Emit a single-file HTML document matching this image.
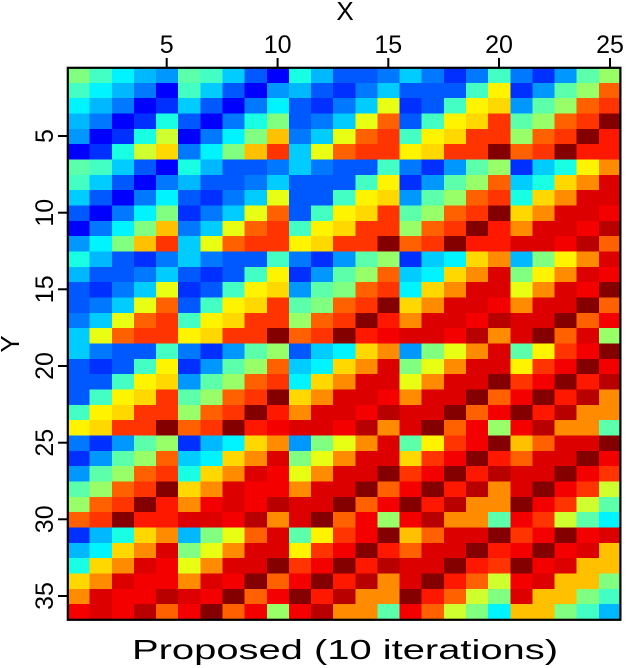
<!DOCTYPE html>
<html>
<head>
<meta charset="utf-8">
<style>
html,body{margin:0;padding:0;background:#fff;width:626px;height:668px;overflow:hidden}
svg{display:block}
text{font-family:"Liberation Sans",sans-serif;fill:#000}
</style>
</head>
<body>
<svg id="s" width="626" height="668" viewBox="0 0 626 668" xmlns="http://www.w3.org/2000/svg">
<rect x="0" y="0" width="626" height="668" fill="#fff"/>
<g id="cells" shape-rendering="crispEdges"></g>
<rect x="67.8" y="67.8" width="552.6" height="552" fill="none" stroke="#000" stroke-width="2.2"/>
<g stroke="#000" stroke-width="2">
<line x1="166.7" y1="58" x2="166.7" y2="67"/>
<line x1="277.6" y1="58" x2="277.6" y2="67"/>
<line x1="388.3" y1="58" x2="388.3" y2="67"/>
<line x1="499" y1="58" x2="499" y2="67"/>
<line x1="610" y1="58" x2="610" y2="67"/>
<line x1="58" y1="136" x2="67" y2="136"/>
<line x1="58" y1="212.7" x2="67" y2="212.7"/>
<line x1="58" y1="289.3" x2="67" y2="289.3"/>
<line x1="58" y1="366" x2="67" y2="366"/>
<line x1="58" y1="442.7" x2="67" y2="442.7"/>
<line x1="58" y1="519.3" x2="67" y2="519.3"/>
<line x1="58" y1="596" x2="67" y2="596"/>
</g>
<g font-size="25" text-anchor="middle">
<text x="166.7" y="53">5</text>
<text x="277.6" y="53">10</text>
<text x="388.3" y="53">15</text>
<text x="499" y="53">20</text>
<text x="610" y="53">25</text>
<text transform="translate(53,136) rotate(-90)">5</text>
<text transform="translate(53,212.7) rotate(-90)">10</text>
<text transform="translate(53,289.3) rotate(-90)">15</text>
<text transform="translate(53,366) rotate(-90)">20</text>
<text transform="translate(53,442.7) rotate(-90)">25</text>
<text transform="translate(53,519.3) rotate(-90)">30</text>
<text transform="translate(53,596) rotate(-90)">35</text>
</g>
<text x="345" y="20" font-size="26" text-anchor="middle">X</text>
<text transform="translate(19,344) rotate(-90)" font-size="26" text-anchor="middle">Y</text>
<text x="132" y="659" font-size="28" textLength="426" lengthAdjust="spacingAndGlyphs">Proposed (10 iterations)</text>
</svg>
<script>
(function(){
var P={A:'#0000ff',B:'#0030ff',C:'#0058ff',D:'#0078ff',E:'#0098ff',F:'#00b8ff',G:'#00ccff',H:'#00f4ff',I:'#18ffe4',J:'#44ffc4',K:'#5cffaa',L:'#80ff80',M:'#98ff68',N:'#d0ff30',O:'#e8ff14',P:'#fff400',Q:'#ffd800',R:'#ffc000',S:'#ff8c00',T:'#ff6000',U:'#ff3400',V:'#ff1800',W:'#f40000',X:'#dc0000',Y:'#b80000',Z:'#840000'};
var D=[
"LJHFEKJG"+"CAIFCCDG"+"DBDJDBEKM",
"JHFDAJGC"+"AEFCBDGC"+"CCJPBEKMT",
"HFDABGCA"+"DHCBDGOB"+"CJPQEKMTU",
"FDABICAD"+"ILCDGOTC"+"JPQUKMTUZ",
"EABINADH"+"LRDGOTUJ"+"PQUUMTUZV",
"ABINQDHL"+"RUGOTUUP"+"QUUZTUZVV",
"KJGCAIFC"+"CDGDCCJD"+"BEKMBGIPS",
"JGCADFCC"+"DGCCCJPB"+"EKMTGIQSX",
"GCADHCBD"+"GOCCJPQE"+"KMTUIQSXX",
"CADHLBDG"+"OTCJPQUK"+"MTUZQSXXW",
"ADHLRDGO"+"TUJPQUUM"+"TUZVSXXWY",
"EHLRUGOT"+"UUPQUUZT"+"UZVVXXWYT",
"IFCBDGDC"+"CJDBEKMB"+"GHQSFLPSX",
"FCCDGCBC"+"JPBEKMTG"+"HQSXLPSXW",
"CBDGOBCJ"+"PQEKLTUH"+"QSXXOSXWZ",
"CDGOTCJP"+"QUKLTUZQ"+"SXXWSXXZT",
"DGOTUJPQ"+"UUMTUZVS"+"XXWYXXZTW",
"GOTUUPQU"+"UZTUZVWX"+"XWYSXZTXM",
"GDCCJDBE"+"KMCGHQSE"+"LOSXKPUWZ",
"CBCJPBEK"+"MTGHQSXL"+"OSXXPUWZW",
"CCJPQEKM"+"TUHQSXXO"+"SXXZUWZVY",
"CJPQUKMT"+"UZQSXXWS"+"XXZTWZVYS",
"JPQUUMTU"+"ZVSXXWYX"+"XZTWZVYSS",
"PQUUZTUZ"+"VWXXWYSX"+"ZTWMWYSSK",
"DBEKMBFH"+"QSELOSXK"+"PUWZRTXXZ",
"BEKMTGHQ"+"SXLOSXXQ"+"UWZVTXXZW",
"EKMTUIQS"+"XWOSXXZU"+"WZVYXXZWU",
"KMTUZQSX"+"WWSXXZTW"+"ZVYSXZWUN",
"MTUZVSWX"+"WYXXZTWZ"+"VYSSZWUNK",
"TUZVVXXW"+"YSXZTWMW"+"YSSKWUNKH",
"BFIQSFLO"+"TXKPUWZR"+"TXXZUWZWX",
"FHQSXLOS"+"XXPUWZVT"+"XXZVWZWXR",
"IQSXWOSX"+"XZUWZVYX"+"XZVUZWXRR",
"QSXWWSXW"+"ZTWZVYSX"+"ZVTNWXRRL",
"SXWWYXWZ"+"TWZVYSSZ"+"VTNLXRRLJ",
"WXWYTWZT"+"WMWYSSKW"+"TNLHRRLJF"
];
var ns='http://www.w3.org/2000/svg',g=document.getElementById('cells');
var cw=22.14,ch=15.333,x0=67.5,y0=67.5;
for(var j=0;j<36;j++){
  var row=D[j];
  for(var i=0;i<25;i++){
    var c=P[row.charAt(i)]||'#808080';
    var xa=x0+i*cw,xb=x0+(i+1)*cw,ya=y0+j*ch,yb=y0+(j+1)*ch;
    var r=document.createElementNS(ns,'rect');
    r.setAttribute('x',xa.toFixed(2));
    r.setAttribute('y',ya.toFixed(2));
    r.setAttribute('width',(xb-xa+0.6).toFixed(2));
    r.setAttribute('height',(yb-ya+0.6).toFixed(2));
    r.setAttribute('fill',c);
    g.appendChild(r);
  }
}
})();
</script>
</body>
</html>
